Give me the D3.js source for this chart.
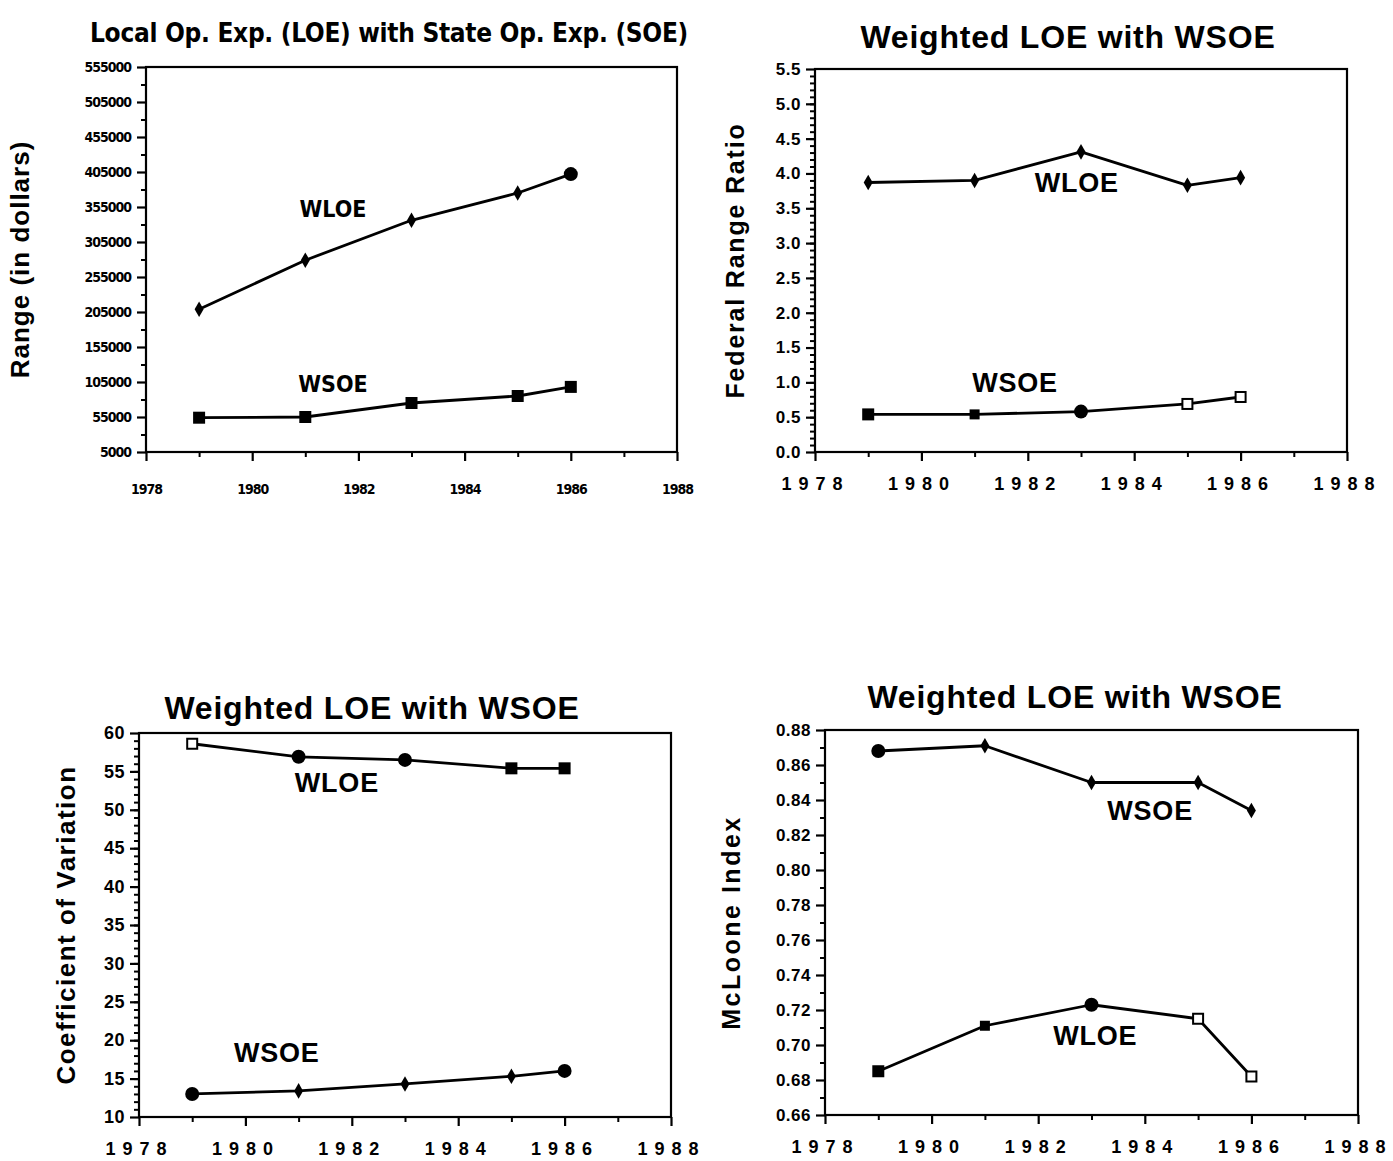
<!DOCTYPE html>
<html>
<head>
<meta charset="utf-8">
<script src="https://cdn.jsdelivr.net/npm/d3@7"></script>
<style>
  body { margin: 0; background: #fff; }
  svg { display: block; }
  .narrow { font-family: "Liberation Sans Narrow", "DejaVu Sans Condensed", "Arial Narrow", sans-serif; font-weight: bold; }
  .wide { font-family: "Liberation Sans", Arial, Helvetica, sans-serif; font-weight: bold; }
</style>
</head>
<body>
<script>
// years measured in every panel
const years = [1979, 1981, 1983, 1985, 1986]
const xTicks = [1978, 1980, 1982, 1984, 1986, 1988]

// panel 1: range in dollars
const dollarWLOE = [209000, 279000, 336000, 375000, 402000]
const dollarWSOE = [54000, 55000, 75000, 85000, 98000]
const dollarTicks = [5000, 55000, 105000, 155000, 205000, 255000, 305000, 355000, 405000, 455000, 505000, 555000]

// panel 2: federal range ratio
const ratioWLOE = [3.87, 3.90, 4.31, 3.83, 3.94]
const ratioWSOE = [0.54, 0.54, 0.58, 0.69, 0.79]
const ratioTicks = [0.0, 0.5, 1.0, 1.5, 2.0, 2.5, 3.0, 3.5, 4.0, 4.5, 5.0, 5.5]

// panel 3: coefficient of variation
const cvWLOE = [58.6, 56.9, 56.5, 55.4, 55.4]
const cvWSOE = [13.0, 13.4, 14.3, 15.3, 16.0]
const cvTicks = [10, 15, 20, 25, 30, 35, 40, 45, 50, 55, 60]

// panel 4: McLoone index
const mcWSOE = [0.868, 0.871, 0.850, 0.850, 0.834]
const mcWLOE = [0.685, 0.711, 0.723, 0.715, 0.682]
const mcTicks = [0.66, 0.68, 0.70, 0.72, 0.74, 0.76, 0.78, 0.80, 0.82, 0.84, 0.86, 0.88]

const width = 1393
const height = 1161

const svg = d3.select('body')
  .append('svg')
  .attr('width', width)
  .attr('height', height)

function drawMarker(g, kind, x, y) {
  if (kind === 'sq') {
    g.append('rect').attr('x', x - 6).attr('y', y - 6).attr('width', 12).attr('height', 12).attr('fill', '#000')
  } else if (kind === 'ssq') {
    g.append('rect').attr('x', x - 5).attr('y', y - 5).attr('width', 10).attr('height', 10).attr('fill', '#000')
  } else if (kind === 'osq') {
    g.append('rect').attr('x', x - 5).attr('y', y - 5).attr('width', 10).attr('height', 10)
      .attr('fill', '#fff').attr('stroke', '#000').attr('stroke-width', 2)
  } else if (kind === 'circ') {
    g.append('circle').attr('cx', x).attr('cy', y).attr('r', 7).attr('fill', '#000')
  } else {
    // small diamond-ish dot
    g.append('path').attr('d', d3.symbol().type(d3.symbolDiamond).size(70)()).attr('transform', `translate(${x},${y})`).attr('fill', '#000')
  }
}

function drawPanel(p) {
  const g = svg.append('g')
  const x = d3.scaleLinear().domain([1978, 1988]).range([p.left, p.right])
  const y = d3.scaleLinear().domain([p.ticks[0], p.ticks[p.ticks.length - 1]]).range([p.bottom, p.top])

  // frame
  g.append('rect')
    .attr('x', p.left).attr('y', p.top)
    .attr('width', p.right - p.left).attr('height', p.bottom - p.top)
    .attr('fill', 'none').attr('stroke', '#000').attr('stroke-width', 2.2)

  // x axis
  const xAxis = d3.axisBottom(x).tickValues(xTicks).tickSize(9).tickFormat(d3.format('d'))
  const xg = g.append('g').attr('transform', `translate(0,${p.bottom})`).call(xAxis)
  xg.select('.domain').remove()
  xg.selectAll('line').attr('stroke-width', 2.2)
  xg.selectAll('text').attr('class', p.font).attr('font-size', p.xFont).attr('letter-spacing', p.xSpacing)
    .attr('dy', null).attr('y', p.xLabelY)
  const xMinor = d3.axisBottom(x).tickValues(d3.range(1979, 1988, 2)).tickSize(5).tickFormat('')
  const xm = g.append('g').attr('transform', `translate(0,${p.bottom})`).call(xMinor)
  xm.select('.domain').remove()
  xm.selectAll('line').attr('stroke-width', 2)

  // y axis
  const yAxis = d3.axisLeft(y).tickValues(p.ticks).tickSize(9).tickFormat(p.fmt)
  const yg = g.append('g').attr('transform', `translate(${p.left},0)`).call(yAxis)
  yg.select('.domain').remove()
  yg.selectAll('line').attr('stroke-width', 2.2)
  yg.selectAll('text').attr('class', p.font).attr('font-size', p.yFont).attr('x', p.yLabelX)
    .attr('letter-spacing', p.ySpacing)
  const ym = g.append('g').attr('transform', `translate(${p.left},0)`)
    .call(d3.axisLeft(y).tickValues(p.minor).tickSize(5).tickFormat(''))
  ym.select('.domain').remove()
  ym.selectAll('line').attr('stroke-width', 2)

  // title
  g.append('text').attr('class', p.font)
    .attr('x', p.titleX).attr('y', p.titleY)
    .attr('text-anchor', 'middle').attr('font-size', p.titleFont)
    .attr('letter-spacing', p.titleSpacing)
    .text(p.title)

  // y axis title
  g.append('text').attr('class', 'wide')
    .attr('transform', `translate(${p.yTitleX},${(p.top + p.bottom) / 2}) rotate(-90)`)
    .attr('text-anchor', 'middle').attr('dominant-baseline', 'middle')
    .attr('font-size', p.yTitleFont).attr('letter-spacing', p.yTitleSpacing)
    .text(p.yTitle)

  // series
  const line = d3.line().x((d, i) => x(years[i])).y(d => y(d))
  p.series.forEach(s => {
    g.append('path').attr('d', line(s.values))
      .attr('fill', 'none').attr('stroke', '#000').attr('stroke-width', 2.8)
      .attr('stroke-linejoin', 'round')
    s.values.forEach((v, i) => drawMarker(g, s.markers[i], x(years[i]), y(v)))
    g.append('text').attr('class', p.font)
      .attr('x', x(s.labelAt[0])).attr('y', y(s.labelAt[1]))
      .attr('text-anchor', 'middle').attr('dominant-baseline', 'middle')
      .attr('font-size', p.seriesFont).attr('letter-spacing', p.seriesSpacing)
      .text(s.name)
  })
}

drawPanel({
  left: 146, right: 677, top: 67, bottom: 452,
  ticks: dollarTicks, minor: d3.range(30000, 555000, 50000), fmt: d3.format('d'),
  font: 'narrow', xFont: 14, xSpacing: -1, xLabelY: 42, yFont: 14, ySpacing: -1, yLabelX: -15,
  title: 'Local Op. Exp. (LOE) with State Op. Exp. (SOE)', titleX: 389, titleY: 42, titleFont: 26, titleSpacing: -0.3,
  yTitle: 'Range (in dollars)', yTitleX: 22, yTitleFont: 26, yTitleSpacing: 1, seriesFont: 23, seriesSpacing: 0,
  series: [
    { name: 'WLOE', values: dollarWLOE, markers: ['dot', 'dot', 'dot', 'dot', 'circ'], labelAt: [1981.52, 350700] },
    { name: 'WSOE', values: dollarWSOE, markers: ['sq', 'sq', 'sq', 'sq', 'sq'], labelAt: [1981.52, 99300] }
  ]
})

drawPanel({
  left: 815, right: 1347, top: 69, bottom: 452,
  ticks: ratioTicks, minor: d3.range(0.1, 5.5, 0.1), fmt: d3.format('.1f'),
  font: 'wide', xFont: 18, xSpacing: 7, xLabelY: 38, yFont: 17, ySpacing: 0.5, yLabelX: -14,
  title: 'Weighted LOE with WSOE', titleX: 1068, titleY: 48, titleFont: 32, titleSpacing: 0.8,
  yTitle: 'Federal Range Ratio', yTitleX: 737, yTitleFont: 25, yTitleSpacing: 1.8, seriesFont: 27, seriesSpacing: 0.8,
  series: [
    { name: 'WLOE', values: ratioWLOE, markers: ['dot', 'dot', 'dot', 'dot', 'dot'], labelAt: [1982.92, 3.83] },
    { name: 'WSOE', values: ratioWSOE, markers: ['sq', 'ssq', 'circ', 'osq', 'osq'], labelAt: [1981.76, 0.96] }
  ]
})

drawPanel({
  left: 139, right: 671, top: 733, bottom: 1117,
  ticks: cvTicks, minor: d3.range(11, 60, 1), fmt: d3.format('d'),
  font: 'wide', xFont: 18, xSpacing: 7, xLabelY: 38, yFont: 18, ySpacing: 0.5, yLabelX: -14,
  title: 'Weighted LOE with WSOE', titleX: 372, titleY: 719, titleFont: 32, titleSpacing: 0.8,
  yTitle: 'Coefficient of Variation', yTitleX: 68, yTitleFont: 26, yTitleSpacing: 1.5, seriesFont: 27, seriesSpacing: 0.8,
  series: [
    { name: 'WLOE', values: cvWLOE, markers: ['osq', 'circ', 'circ', 'sq', 'sq'], labelAt: [1981.72, 53.2] },
    { name: 'WSOE', values: cvWSOE, markers: ['circ', 'dot', 'dot', 'dot', 'circ'], labelAt: [1980.59, 18.1] }
  ]
})

drawPanel({
  left: 825, right: 1358, top: 730, bottom: 1115,
  ticks: mcTicks, minor: d3.range(0.67, 0.88, 0.02), fmt: d3.format('.2f'),
  font: 'wide', xFont: 18, xSpacing: 7, xLabelY: 38, yFont: 17, ySpacing: 0.5, yLabelX: -14,
  title: 'Weighted LOE with WSOE', titleX: 1075, titleY: 708, titleFont: 32, titleSpacing: 0.8,
  yTitle: 'McLoone Index', yTitleX: 733, yTitleFont: 25, yTitleSpacing: 2.5, seriesFont: 27, seriesSpacing: 0.8,
  series: [
    { name: 'WSOE', values: mcWSOE, markers: ['circ', 'dot', 'dot', 'dot', 'dot'], labelAt: [1984.10, 0.8326] },
    { name: 'WLOE', values: mcWLOE, markers: ['sq', 'ssq', 'circ', 'osq', 'osq'], labelAt: [1983.07, 0.704] }
  ]
})
</script>
</body>
</html>
